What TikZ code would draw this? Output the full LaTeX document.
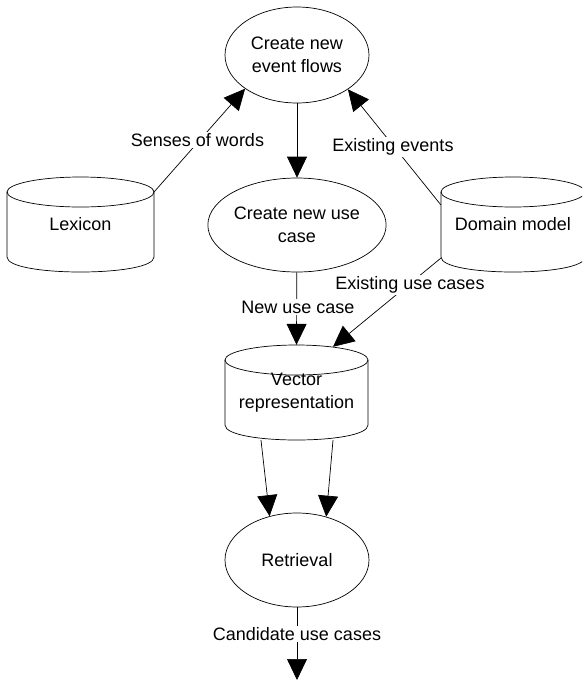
\documentclass[tikz,border=0pt]{standalone}
\usepackage{fontspec}
\setmainfont{Liberation Sans}
\usetikzlibrary{arrows.meta,shapes.geometric,calc}
\newcommand\drawstore[4]{% cx, top, rx, bottom
  \draw[edgeline] (#1,#2+15) ellipse[x radius=#3pt, y radius=15pt];
  \draw[edgeline] (#1-#3,#2+15) -- (#1-#3,#4-15) .. controls (#1-#3,#4+5) and (#1+#3,#4+5) .. (#1+#3,#4-15) -- (#1+#3,#2+15);
}
\begin{document}
\begin{tikzpicture}[x=1pt,y=-1pt,
  every node/.style={font=\fontsize{18}{23}\selectfont},
  proc/.style={ellipse,draw,line width=0.7pt,minimum width=144pt,minimum height=96pt,inner sep=0pt,align=center},
  store/.style={rectangle,inner sep=0pt,align=center},
  lbl/.style={fill=white,inner sep=1.5pt},
  conn/.style={line width=0.7pt,-{Triangle[length=21pt,width=20pt]}},
  edgeline/.style={line width=0.7pt}]
\clip (0,0) rectangle (582,681);
\fill[white] (0,0) rectangle (582,681);

\node[proc] (ev) at (297,55) {Create new\\event flows};
\node[proc,minimum height=94pt] (uc) at (297,225) {Create new use\\case};
\node[proc,minimum height=94pt] (ret) at (297,560) {Retrieval};

\node[store,minimum width=147pt,minimum height=95pt] (lex) at (80.5,224.5) {Lexicon};
\drawstore{80.5}{177}{73.5}{272}
\node[store,minimum width=144pt,minimum height=95pt] (dm) at (513,224.5) {Domain model};
\drawstore{513}{177}{72}{272}
\node[store,minimum width=143pt,minimum height=95pt] (vec) at (296.5,392.5) {Vector\\representation};
\drawstore{296.5}{345}{71.5}{440}

\coordinate (out) at (297,680);

\draw[conn] ($(lex.north east)+(0,15)$) -- (ev.213);
\draw[conn] ($(dm.north west)+(0,28)$) -- (ev.326);
\draw[conn] (ev) -- (uc);
\draw[conn] (uc) -- (vec.north);
\draw[conn] ($(dm.south west)+(0,-14)$) -- ($(vec.north)+(36.5,2)$);
\draw[conn] ($(vec.south)+(-35.5,0)$) -- (ret.122);
\draw[conn] ($(vec.south)+(36.5,0)$) -- (ret.56);
\draw[conn] (ret) -- (out);

\node[lbl] (l1) at (197.5,140) {Senses of words};
\node[lbl] (l2) at (393,147) {Existing events};
\node[lbl] (l3) at (298,307) {New use case};
\node[lbl] (l4) at (410,285) {Existing use cases};
\node[lbl] (l5) at (297,634) {Candidate use cases};
\end{tikzpicture}
\end{document}
